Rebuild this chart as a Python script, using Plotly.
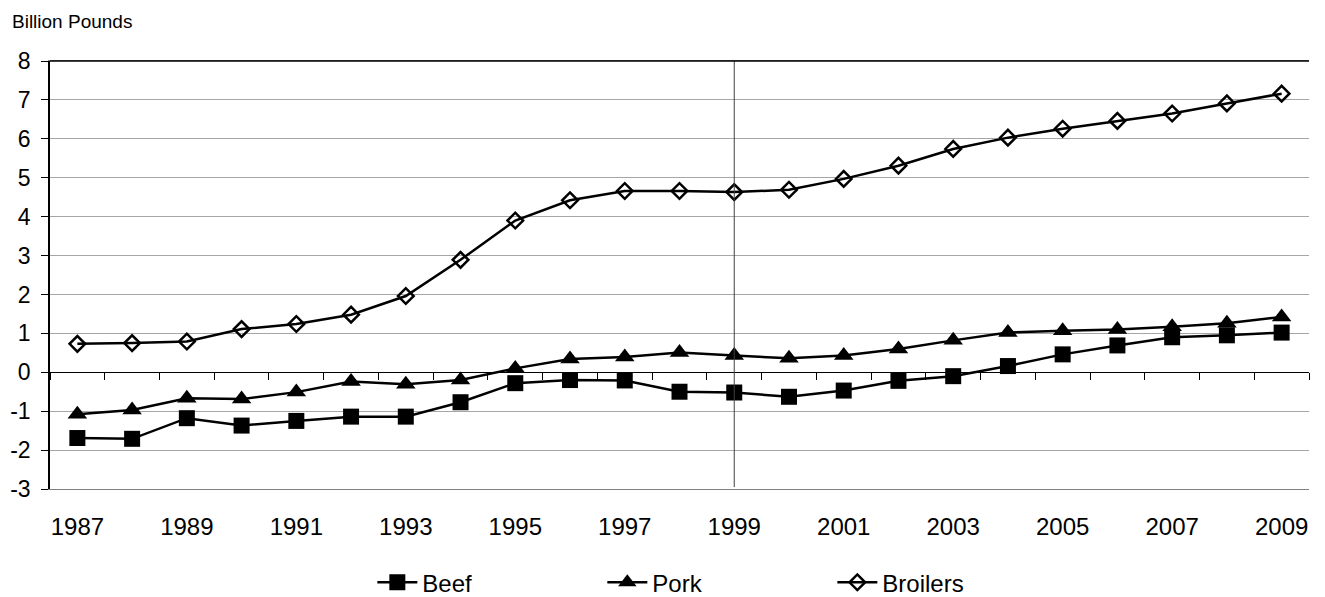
import plotly.graph_objects as go

years = list(range(1987, 2010))
beef = [-1.69, -1.71, -1.18, -1.37, -1.25, -1.14, -1.14, -0.77, -0.28, -0.20, -0.21, -0.50,
        -0.52, -0.63, -0.47, -0.22, -0.10, 0.16, 0.46, 0.69, 0.90, 0.95, 1.02]
pork = [-1.08, -0.97, -0.67, -0.69, -0.51, -0.24, -0.31, -0.20, 0.10, 0.34, 0.39, 0.51,
        0.43, 0.36, 0.43, 0.60, 0.82, 1.02, 1.07, 1.10, 1.17, 1.26, 1.42]
broilers = [0.73, 0.75, 0.79, 1.11, 1.24, 1.48, 1.96, 2.89, 3.90, 4.42, 4.66, 4.66,
            4.63, 4.69, 4.97, 5.31, 5.74, 6.03, 6.26, 6.46, 6.65, 6.91, 7.16]
label_years = list(range(1987, 2010, 2))
y_ticks = list(range(-3, 9))
y_tick_text = [str(v) for v in y_ticks]
marker_year = 1999

FONT = "Liberation Sans, Arial, sans-serif"

fig = go.Figure()
# helper trace so the zero-crossing category axis (x2) is rendered
fig.add_trace(go.Scatter(x=years, y=[None] * len(years), xaxis="x2", yaxis="y",
                         mode="lines", showlegend=False, hoverinfo="skip"))
fig.add_trace(go.Scatter(x=years, y=beef, name="Beef", mode="lines+markers",
                         line=dict(color="black", width=2.5),
                         marker=dict(symbol="square", size=16, color="black")))
fig.add_trace(go.Scatter(x=years, y=pork, name="Pork", mode="lines+markers",
                         line=dict(color="black", width=2.5),
                         marker=dict(symbol="triangle-up", size=17, color="black")))
fig.add_trace(go.Scatter(x=years, y=broilers, name="Broilers", mode="lines+markers",
                         line=dict(color="black", width=2.5),
                         marker=dict(symbol="diamond-open", size=12, color="black",
                                     line=dict(width=2.5, color="black"))))

x_range = [years[0] - 0.5, years[-1] + 0.5]
boundaries = [y - 0.5 for y in years] + [years[-1] + 0.5]

fig.update_layout(
    width=1325, height=597,
    margin=dict(l=50, r=16, t=61, b=108, autoexpand=False),
    paper_bgcolor="white", plot_bgcolor="white",
    font=dict(family=FONT, size=24, color="black"),
    xaxis=dict(range=x_range, tickvals=label_years, ticktext=[str(v) for v in label_years],
               showgrid=False, zeroline=False, showline=True, linecolor="#808080",
               linewidth=1, mirror=True, ticks="", ticklabelstandoff=16,
               tickfont=dict(size=24), automargin=False),
    xaxis2=dict(range=x_range, overlaying="x", anchor="free", position=3 / 11,
                side="bottom",
                tickvals=boundaries, showticklabels=False, ticks="outside", ticklen=7,
                tickcolor="black", tickwidth=1, showgrid=False, zeroline=False, showline=True,
                linecolor="black", linewidth=1, automargin=False),
    yaxis=dict(range=[-3, 8], tickvals=y_ticks, ticktext=y_tick_text,
               showgrid=True, gridcolor="#a6a6a6", gridwidth=1,
               zeroline=False, showline=True, linecolor="black", linewidth=1.5,
               ticks="outside", ticklen=7, tickcolor="black", ticklabelstandoff=6,
               tickfont=dict(size=23), automargin=False),
    showlegend=True,
    legend=dict(orientation="h", xref="container", yref="container", x=0.281, y=0.024,
                xanchor="left", yanchor="middle", entrywidth=175, entrywidthmode="pixels",
                font=dict(size=24), itemwidth=40),
    annotations=[dict(text="Billion Pounds", xref="paper", yref="paper", x=0, y=1,
                      xshift=-40, yshift=40, xanchor="left", yanchor="middle",
                      showarrow=False, font=dict(size=19))],
    shapes=[
        dict(type="line", xref="x", yref="y", x0=marker_year, x1=marker_year, y0=-2.95, y1=8,
             line=dict(color="#404040", width=1)),
        dict(type="line", xref="paper", yref="paper", x0=0, x1=1, y0=1, y1=1,
             line=dict(color="black", width=1.5)),
    ],
)

fig.write_html("out.html", config={"displayModeBar": False},
               post_script="document.body.style.margin='0';document.body.style.overflow='hidden';")
